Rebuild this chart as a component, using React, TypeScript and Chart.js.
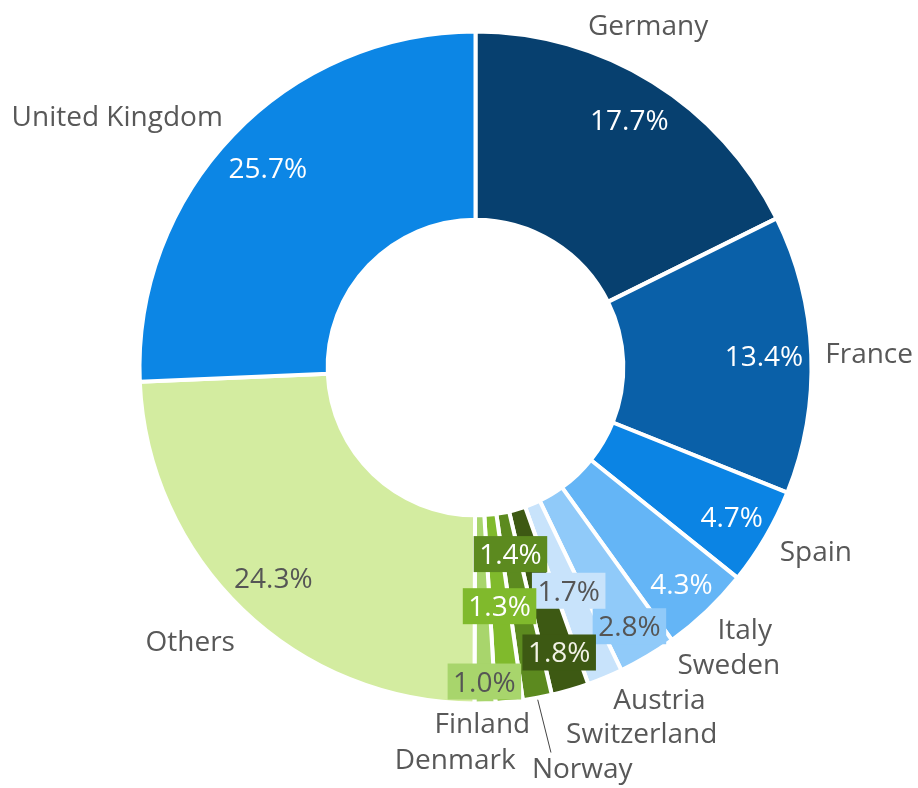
import React, { useEffect, useRef } from "react";
import { Chart, registerables } from "chart.js";

Chart.register(...registerables);

// ---- data ----
const countries = [
  "Germany",
  "France",
  "Spain",
  "Italy",
  "Sweden",
  "Austria",
  "Switzerland",
  "Norway",
  "Denmark",
  "Finland",
  "Others",
  "United Kingdom",
];
const shares = [17.7, 13.4, 4.7, 4.3, 2.8, 1.7, 1.8, 1.4, 1.3, 1.0, 24.3, 25.7];

// ---- styles ----
const sliceColors = [
  "#07406f",
  "#0a60a8",
  "#0b84e4",
  "#64b5f6",
  "#90caf9",
  "#c8e3fb",
  "#3d5913",
  "#5c8a1f",
  "#80ba2c",
  "#a8d56c",
  "#d3eca0",
  "#0c86e5",
];
const valueTextColors = [
  "#ffffff", "#ffffff", "#ffffff", "#ffffff", "#555555", "#555555",
  "#f2f2e6", "#ffffff", "#ffffff", "#555555", "#555555", "#ffffff",
];
// value label radius as fraction of outer radius
const valueRadius = [0.868, 0.859, 0.883, 0.89, 0.896, 0.72, 0.884, 0.565, 0.714, 0.935, 0.868, 0.856];
const valueBoxed = [false, false, false, false, true, true, true, true, true, true, false, false];
// name label alignment and nudges relative to anchor at outer radius + 14
const nameAlign: CanvasTextAlign[] = [
  "center", "left", "left", "left", "left", "left", "left", "left", "right", "center", "right", "right",
];
const nameDx = [-12, 0, 2, 1, 23, 3, -8, -8, 5, -3, 2, 0];
const nameDy = [-35, 9, 17, 18, 6, 19, 40, 66, 53, 16, 31, 1];
const nameLeader = [false, false, false, false, false, false, false, true, false, false, false, false];

const FONT = '28px "Open Sans"';
const TEXT_GREY = "#585858";

const labelPlugin = {
  id: "sliceLabels",
  afterDatasetsDraw(chart: any) {
    const ctx: CanvasRenderingContext2D = chart.ctx;
    const meta = chart.getDatasetMeta(0);
    ctx.save();
    ctx.font = FONT;
    meta.data.forEach((arc: any, i: number) => {
      const { x, y, startAngle, endAngle, outerRadius } = arc.getProps(
        ["x", "y", "startAngle", "endAngle", "outerRadius"],
        true
      );
      const mid = (startAngle + endAngle) / 2;
      const cos = Math.cos(mid);
      const sin = Math.sin(mid);

      // value label
      const r = outerRadius * valueRadius[i];
      const vx = x + r * cos;
      const vy = y + r * sin;
      const txt = shares[i].toFixed(1) + "%";
      const w = ctx.measureText(txt).width;
      if (valueBoxed[i]) {
        ctx.fillStyle = sliceColors[i];
        ctx.fillRect(vx - w / 2 - 5.5, vy - 18, w + 11, 36);
      }
      ctx.fillStyle = valueTextColors[i];
      ctx.textAlign = "center";
      ctx.textBaseline = "alphabetic";
      ctx.fillText(txt, vx, vy + 10);

      // name label
      const ra = outerRadius + 14;
      const ax = x + ra * cos + nameDx[i];
      const ay = y + ra * sin + nameDy[i];
      ctx.fillStyle = TEXT_GREY;
      ctx.textAlign = nameAlign[i];
      ctx.fillText(countries[i], ax, ay);

      if (nameLeader[i]) {
        const rs = outerRadius + 2;
        ctx.strokeStyle = "#444444";
        ctx.lineWidth = 1;
        ctx.beginPath();
        ctx.moveTo(x + rs * cos, y + rs * sin);
        ctx.lineTo(ax + 19, ay - 25);
        ctx.stroke();
      }
    });
    ctx.restore();
  },
};

export default function App() {
  const canvasRef = useRef<HTMLCanvasElement | null>(null);

  useEffect(() => {
    if (!canvasRef.current) return;
    const chart = new Chart(canvasRef.current, {
      type: "doughnut",
      data: {
        labels: countries,
        datasets: [
          {
            data: shares,
            backgroundColor: sliceColors,
            borderColor: "#ffffff",
            borderWidth: 4,
            hoverOffset: 0,
          },
        ],
      },
      options: {
        responsive: false,
        animation: false,
        cutout: "44%",
        layout: {
          padding: { left: 137.5, right: 104.5, top: 29.5, bottom: 82.5 },
        },
        plugins: {
          legend: { display: false },
          tooltip: { enabled: false },
        },
      },
      plugins: [labelPlugin],
    });
    return () => chart.destroy();
  }, []);

  return (
    <div style={{ position: "absolute", left: 0, top: 0, width: 918, height: 788 }}>
      <canvas ref={canvasRef} width={918} height={788} style={{ display: "block" }} />
    </div>
  );
}
